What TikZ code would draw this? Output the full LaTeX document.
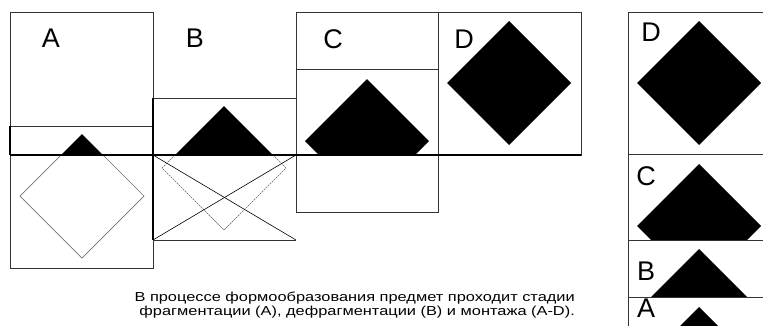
\documentclass[tikz,border=0pt]{standalone}
\usepackage{fontspec}
\setmainfont{Liberation Sans}
\newfontfamily\captionfont[FakeStretch=1.26]{Liberation Sans}
\usetikzlibrary{calc}

\begin{document}
\begin{tikzpicture}[x=1pt, y=-1pt,
    frame/.style={draw=black!80, line width=0.8pt},
    letter/.style={font=\fontsize{27}{30}\selectfont, inner sep=0pt}]

    % Page and its margins
    \clip (0,0) rectangle (763,325);
    \fill[white] (0,0) rectangle (763,325);

    % First the black parts, each clipped to its strip
    \foreach \cx/\cy/\ya/\yb in {82/196/126/155, 224/168/98/155, 367/141/69/155,
        509/83/12/155, 699/83/12/154, 699/226/154/240, 699/311/240/297, 699/369/297/325}
    {
      \begin{scope}
        \clip (\cx-70,\ya) rectangle (\cx+70,\yb);
        \fill[black] (\cx,\cy-62) -- (\cx+62,\cy) -- (\cx,\cy+62) -- (\cx-62,\cy) -- cycle;
      \end{scope}
    }

    % Lower outlines in A and B
    \draw[black!55, line width=0.7pt] (61,155) -- (20,196) -- (82,258) -- (144,196) -- (103,155);
    \draw[black!60, line width=0.6pt, dash pattern=on 2pt off 0.8pt]
      (175,155) -- (162,168) -- (224,230) -- (286,168) -- (273,155);
    \draw[black, line width=0.6pt] (153,155) -- (296,240);
    \draw[black, line width=0.6pt] (153,240) -- (296,155);

    % Next, the frames
    \draw[frame] (10,12) rectangle (153,268);
    \draw[frame] (10,126) -- (153,126);
    \draw[black, line width=1.6pt] (10,126) -- (10,155);
    \draw[frame] (153,98) -- (296,98);
    \draw[frame] (153,240) -- (296,240);
    \draw[black, line width=1.2pt] (153,98) -- (153,240);
    \draw[frame] (296,12) rectangle (438,212);
    \draw[frame] (296,69) -- (438,69);
    \draw[frame] (438,12) rectangle (581,155);
    \draw[black, line width=1.2pt] (10,155) -- (581,155);

    % Column on the right
    \draw[frame] (770,12) -- (628,12) -- (628,330);
    \foreach \y in {154, 240, 297}
      \draw[frame] (628,\y) -- (770,\y);

    % Letters
    \node[letter] (lA) at (51,38) {A};
    \node[letter] (lB) at (195,38) {B};
    \node[letter] (lC) at (333,39) {C};
    \node[letter] (lD) at (464,39) {D};
    \node[letter] (rD) at (651,32) {D};
    \node[letter] (rC) at (646,176) {C};
    \node[letter] (rB) at (646,271) {B};
    \node[letter] (rA) at (646,308) {A};

    % Caption
    \node[font=\captionfont\fontsize{13}{14}\selectfont, align=right, inner sep=0pt,
          anchor=east] (caption) at (575,305)
      {В процессе формообразования предмет проходит стадии\\
       фрагментации (A), дефрагментации (B) и монтажа (A-D).};
\end{tikzpicture}
\end{document}
